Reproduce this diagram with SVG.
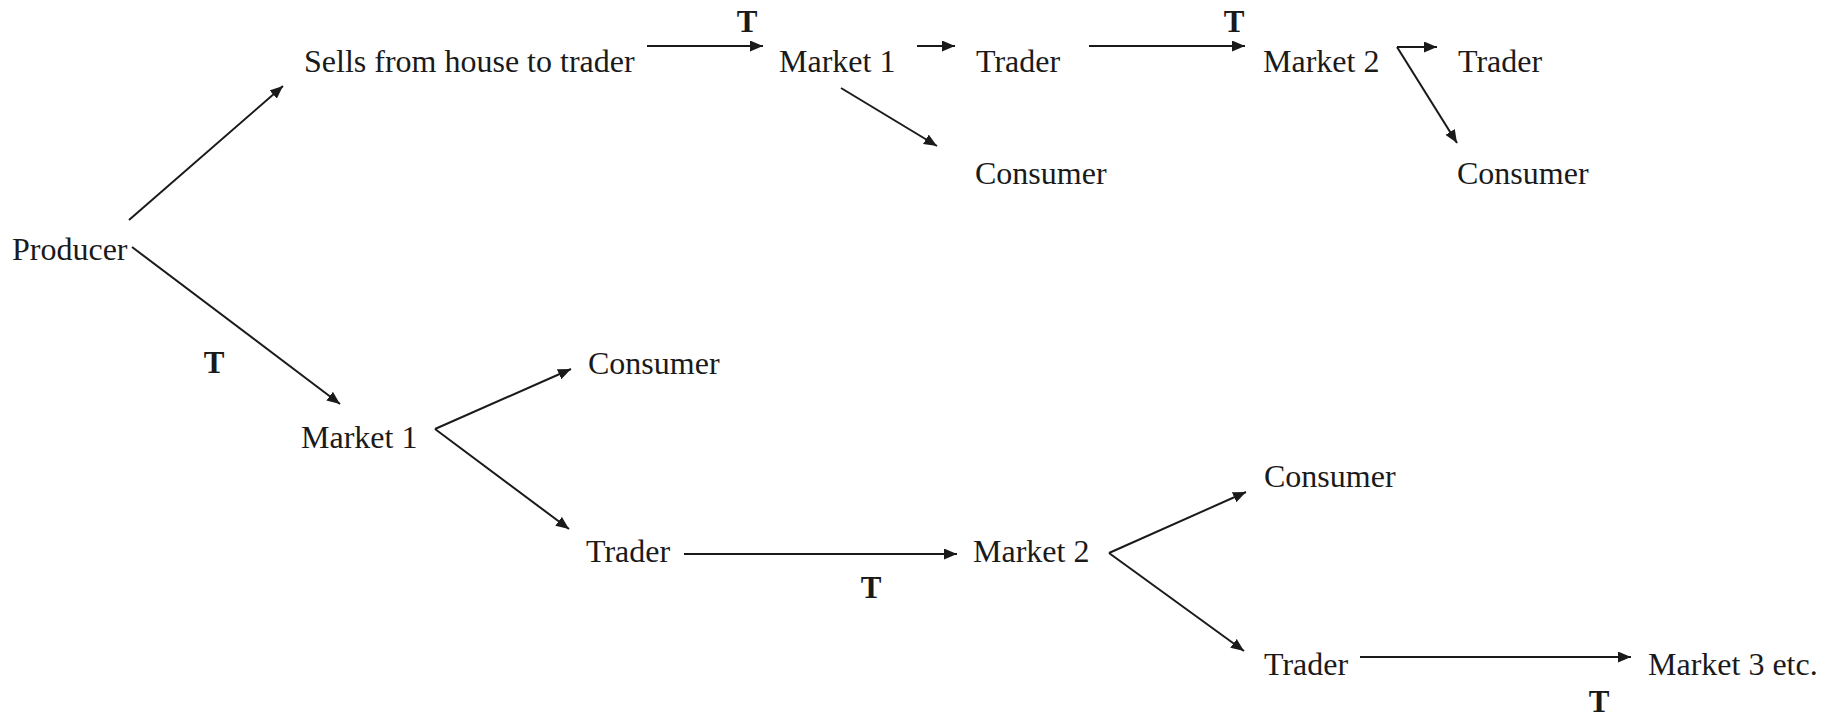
<svg xmlns="http://www.w3.org/2000/svg" width="1838" height="719" viewBox="0 0 1838 719">
<style>
  .lbl { font-family: "Liberation Serif", "Times New Roman", serif; font-size: 32px; fill: #1a1a1a; }
  .t { font-family: "Liberation Serif", "Times New Roman", serif; font-size: 31px; font-weight: bold; fill: #1a1a1a; text-anchor: middle; }
  .c { stroke: #1a1a1a; stroke-width: 2; fill: none; marker-end: url(#ah); }
</style>
<defs>
  <marker id="ah" markerUnits="userSpaceOnUse" markerWidth="13" markerHeight="11" refX="13" refY="5.5" orient="auto">
    <path d="M0,0 L13,5.5 L0,11 z" fill="#1a1a1a"/>
  </marker>
</defs>
<rect width="1838" height="719" fill="#ffffff"/>

<g id="connectors">
  <line class="c" x1="129" y1="220" x2="283" y2="86"/>
  <line class="c" x1="132" y1="247" x2="340" y2="404"/>
  <line class="c" x1="647" y1="46" x2="763" y2="46"/>
  <line class="c" x1="917" y1="46" x2="955" y2="46"/>
  <line class="c" x1="841" y1="88" x2="937" y2="146"/>
  <line class="c" x1="1089" y1="46" x2="1245" y2="46"/>
  <line class="c" x1="1397" y1="47" x2="1437" y2="47"/>
  <line class="c" x1="1397" y1="47" x2="1457" y2="143"/>
  <line class="c" x1="435" y1="429" x2="571" y2="369"/>
  <line class="c" x1="435" y1="429" x2="569" y2="529"/>
  <line class="c" x1="684" y1="554" x2="957" y2="554"/>
  <line class="c" x1="1109" y1="553" x2="1246" y2="492"/>
  <line class="c" x1="1109" y1="553" x2="1244" y2="651"/>
  <line class="c" x1="1360" y1="657" x2="1631" y2="657"/>
</g>

<g id="edge-labels">
  <text class="t" x="747" y="32">T</text>
  <text class="t" x="1234" y="32">T</text>
  <text class="t" x="214" y="373">T</text>
  <text class="t" x="871" y="598">T</text>
  <text class="t" x="1599" y="712">T</text>
</g>

<g id="producer"><text class="lbl" x="12" y="260">Producer</text></g>
<g id="sells-from-house"><text class="lbl" x="304" y="72">Sells from house to trader</text></g>
<g id="top-market1"><text class="lbl" x="779" y="72">Market 1</text></g>
<g id="top-trader1"><text class="lbl" x="976" y="72">Trader</text></g>
<g id="top-consumer1"><text class="lbl" x="975" y="184">Consumer</text></g>
<g id="top-market2"><text class="lbl" x="1263" y="72">Market 2</text></g>
<g id="top-trader2"><text class="lbl" x="1458" y="72">Trader</text></g>
<g id="top-consumer2"><text class="lbl" x="1457" y="184">Consumer</text></g>
<g id="bottom-market1"><text class="lbl" x="301" y="448">Market 1</text></g>
<g id="bottom-consumer1"><text class="lbl" x="588" y="374">Consumer</text></g>
<g id="bottom-trader1"><text class="lbl" x="586" y="562">Trader</text></g>
<g id="bottom-market2"><text class="lbl" x="973" y="562">Market 2</text></g>
<g id="bottom-consumer2"><text class="lbl" x="1264" y="487">Consumer</text></g>
<g id="bottom-trader2"><text class="lbl" x="1264" y="675">Trader</text></g>
<g id="market3"><text class="lbl" x="1648" y="675">Market 3 etc.</text></g>
</svg>
